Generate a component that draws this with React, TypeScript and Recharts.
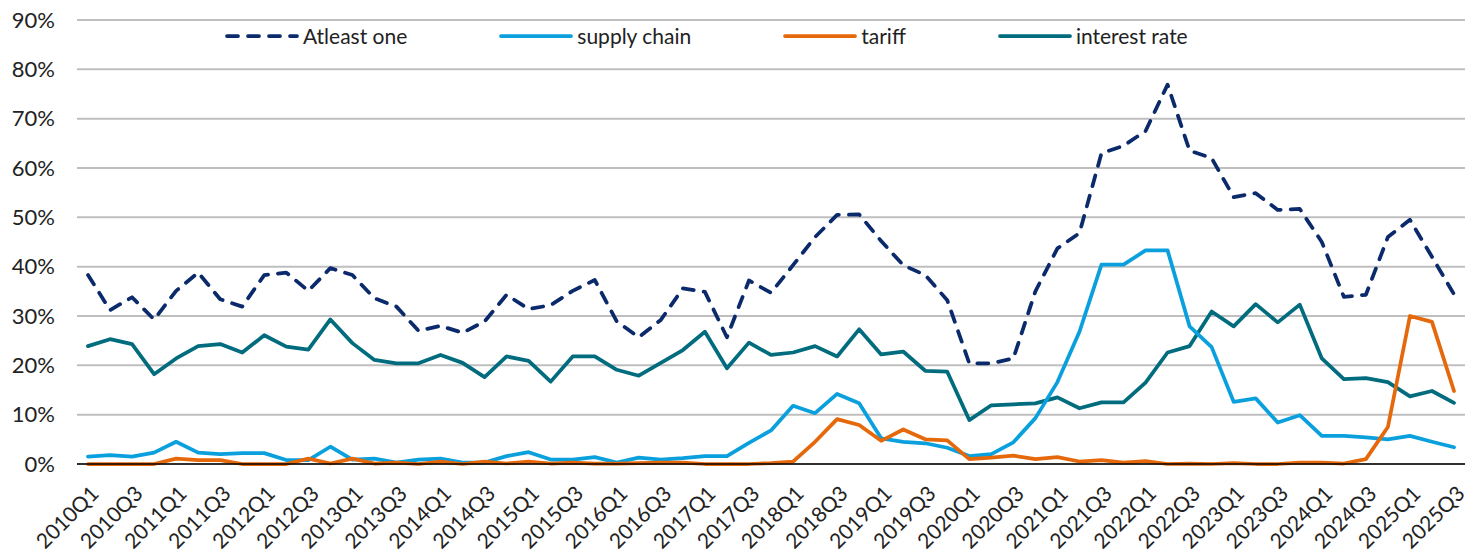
import React from "react";
import { LineChart, Line, XAxis, YAxis, CartesianGrid, Legend } from "recharts";

// quarterly share of mentions, %
const quarters = [
  "2010Q1", "2010Q2", "2010Q3", "2010Q4", "2011Q1", "2011Q2", "2011Q3", "2011Q4",
  "2012Q1", "2012Q2", "2012Q3", "2012Q4", "2013Q1", "2013Q2", "2013Q3", "2013Q4",
  "2014Q1", "2014Q2", "2014Q3", "2014Q4", "2015Q1", "2015Q2", "2015Q3", "2015Q4",
  "2016Q1", "2016Q2", "2016Q3", "2016Q4", "2017Q1", "2017Q2", "2017Q3", "2017Q4",
  "2018Q1", "2018Q2", "2018Q3", "2018Q4", "2019Q1", "2019Q2", "2019Q3", "2019Q4",
  "2020Q1", "2020Q2", "2020Q3", "2020Q4", "2021Q1", "2021Q2", "2021Q3", "2021Q4",
  "2022Q1", "2022Q2", "2022Q3", "2022Q4", "2023Q1", "2023Q2", "2023Q3", "2023Q4",
  "2024Q1", "2024Q2", "2024Q3", "2024Q4", "2025Q1", "2025Q2", "2025Q3",
];

const atLeastOne = [
  38.3, 31.2, 33.8, 29.3, 35.1, 38.8, 33.4, 31.9, 38.3, 38.8, 35.1, 39.7, 38.3, 33.6, 31.9, 27.0,
  28.0, 26.6, 28.9, 34.3, 31.4, 32.2, 35.1, 37.3, 28.9, 25.7, 29.2, 35.6, 34.9, 25.7, 37.2, 34.7,
  40.3, 46.0, 50.5, 50.6, 45.2, 40.3, 38.3, 33.2, 20.4, 20.4, 21.4, 35.0, 43.7, 46.8, 63.0, 64.5,
  67.5, 76.9, 63.5, 62.0, 54.1, 54.9, 51.5, 51.7, 45.0, 33.9, 34.3, 46.0, 49.5, 42.0, 34.4,
];

const supplyChain = [
  1.5, 1.8, 1.5, 2.3, 4.5, 2.3, 2.0, 2.2, 2.2, 0.8, 0.8, 3.5, 0.9, 1.1, 0.3, 0.9,
  1.1, 0.3, 0.3, 1.6, 2.4, 0.9, 0.9, 1.4, 0.3, 1.3, 0.9, 1.2, 1.6, 1.6, 4.3, 6.8,
  11.8, 10.3, 14.2, 12.3, 5.2, 4.5, 4.2, 3.3, 1.6, 2.0, 4.4, 9.3, 16.6, 26.8, 40.4, 40.4,
  43.3, 43.3, 27.9, 23.7, 12.6, 13.3, 8.4, 9.9, 5.7, 5.7, 5.4, 5.0, 5.7, 4.5, 3.4,
];

const tariff = [
  0, 0, 0, 0, 1.1, 0.8, 0.8, 0, 0, 0, 1.1, 0.1, 1.1, 0.1, 0.3, 0,
  0.5, 0, 0.5, 0.1, 0.5, 0.1, 0.3, 0.1, 0.1, 0.2, 0.3, 0.3, 0, 0, 0, 0.2,
  0.5, 4.5, 9.1, 7.9, 4.7, 7.0, 5.0, 4.8, 1.0, 1.3, 1.7, 1.0, 1.4, 0.5, 0.8, 0.3,
  0.6, 0, 0.1, 0, 0.2, 0, 0, 0.3, 0.3, 0.1, 1.0, 7.5, 30.0, 28.8, 14.8,
];

const interestRate = [
  23.9, 25.3, 24.3, 18.2, 21.4, 23.9, 24.3, 22.6, 26.1, 23.8, 23.2, 29.3, 24.5, 21.1, 20.4, 20.4,
  22.1, 20.5, 17.6, 21.8, 20.9, 16.7, 21.8, 21.8, 19.1, 17.9, 20.5, 23.1, 26.8, 19.4, 24.6, 22.1,
  22.6, 23.9, 21.8, 27.3, 22.2, 22.8, 18.9, 18.7, 8.9, 11.9, 12.1, 12.3, 13.5, 11.3, 12.5, 12.5,
  16.5, 22.6, 23.9, 30.9, 27.9, 32.4, 28.7, 32.3, 21.4, 17.2, 17.4, 16.6, 13.7, 14.8, 12.4,
];

const yTicks = [0, 10, 20, 30, 40, 50, 60, 70, 80, 90];

const FONT = "Lato, 'Liberation Sans', sans-serif";
const TEXT = "#222";

const series = [
  { key: "atLeastOne", name: "Atleast one", color: "#0b2a6b", dashed: true },
  { key: "supplyChain", name: "supply chain", color: "#0aa0dd", dashed: false },
  { key: "tariff", name: "tariff", color: "#e5680b", dashed: false },
  { key: "interestRate", name: "interest rate", color: "#006c7e", dashed: false },
];

// draw order differs from legend order (orange sits on top)
const drawOrder = ["atLeastOne", "interestRate", "supplyChain", "tariff"];

const chartData = quarters.map((q, i) => ({
  q,
  atLeastOne: atLeastOne[i],
  supplyChain: supplyChain[i],
  tariff: tariff[i],
  interestRate: interestRate[i],
}));

function QuarterTick({ x, y, payload }: any) {
  const ax = x + 12;
  const ay = y + 31;
  return (
    <text
      x={ax}
      y={ay}
      transform={`rotate(-45 ${ax} ${ay})`}
      textAnchor="end"
      fontFamily={FONT}
      fontSize={21}
      fill={TEXT}
    >
      {payload.value}
    </text>
  );
}

function LegendRow() {
  return (
    <div
      style={{
        display: "flex",
        alignItems: "center",
        gap: 92,
        fontFamily: FONT,
        fontSize: 21,
        lineHeight: "26px",
        color: TEXT,
        whiteSpace: "nowrap",
      }}
    >
      {series.map((s) => (
        <div key={s.key} style={{ display: "flex", alignItems: "center" }}>
          <svg width={74} height={10}>
            <line
              x1={2}
              x2={72}
              y1={5}
              y2={5}
              stroke={s.color}
              strokeWidth={3.75}
              strokeLinecap="round"
              strokeDasharray={s.dashed ? "11 10" : undefined}
            />
          </svg>
          <span style={{ marginLeft: 4 }}>{s.name}</span>
        </div>
      ))}
    </div>
  );
}

export default function App() {
  return (
    <div style={{ position: "absolute", left: 0, top: 0, background: "#fff" }}>
      <LineChart
        width={1475}
        height={552}
        data={chartData}
        margin={{ top: 20, right: 10, left: 0, bottom: 0 }}
      >
        <CartesianGrid vertical={false} stroke="#bfbfbf" strokeWidth={2} />
        <XAxis
          dataKey="q"
          interval={1}
          tickLine={false}
          tickSize={0}
          tickMargin={0}
          height={88}
          padding={{ left: 11, right: 11 }}
          axisLine={{ stroke: "#000", strokeWidth: 1.5 }}
          tick={<QuarterTick />}
        />
        <YAxis
          domain={[0, 90]}
          ticks={yTicks}
          width={77}
          axisLine={false}
          tickLine={false}
          tickSize={0}
          tickMargin={22}
          tickFormatter={(v: number) => `${v}%`}
          tick={{ fontFamily: FONT, fontSize: 22, fill: TEXT }}
        />
        <Legend
          layout="horizontal"
          verticalAlign="middle"
          align="center"
          wrapperStyle={{ top: 23, left: 225, width: "auto" }}
          content={() => <LegendRow />}
        />
        {drawOrder.map((k) => {
          const s = series.find((d) => d.key === k)!;
          return (
            <Line
              key={s.key}
              type="linear"
              dataKey={s.key}
              name={s.name}
              stroke={s.color}
              strokeWidth={3.75}
              strokeLinecap="round"
              strokeLinejoin="round"
              strokeDasharray={s.dashed ? "11 10" : undefined}
              dot={false}
              activeDot={false}
              isAnimationActive={false}
            />
          );
        })}
      </LineChart>
    </div>
  );
}
